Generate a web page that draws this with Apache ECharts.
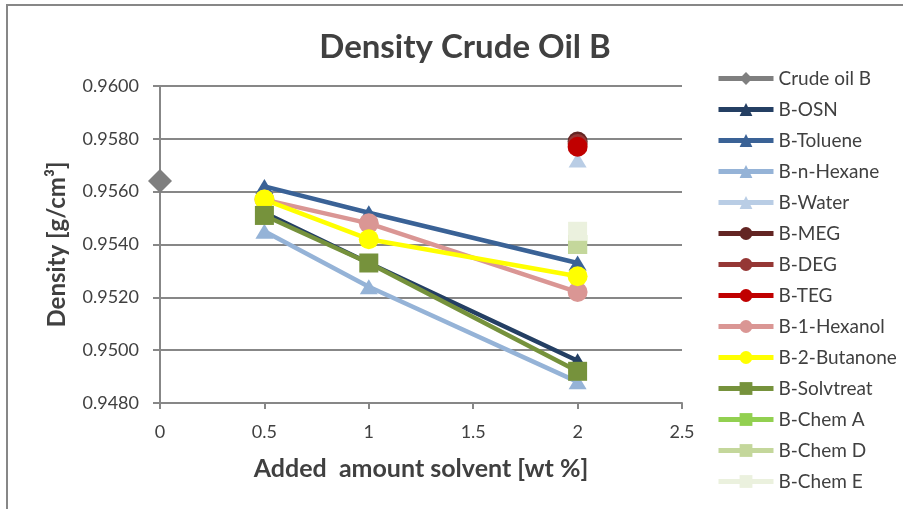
<!DOCTYPE html>
<html>
<head>
<meta charset="utf-8">
<script src="https://cdn.jsdelivr.net/npm/echarts@6/dist/echarts.min.js"></script>
<style>
  html, body { margin: 0; padding: 0; background: #fff; }
  #chart { width: 903px; height: 509px; }
</style>
</head>
<body>
<div id="chart"></div>
<script>
// Added solvent amounts [wt %]
const solventAmounts = [0.5, 1, 2];
const baseAmount = [0];
const endAmount = [2];

// Density [g/cm3] per series
const crudeOilB   = [0.9564];
const osn         = [0.9552, 0.9533, 0.9496];
const toluene     = [0.9562, 0.9552, 0.9533];
const nHexane     = [0.9545, 0.9524, 0.9488];
const water       = [0.9572];
const meg         = [0.9579];
const deg         = [0.9578];
const teg         = [0.9577];
const hexanol     = [0.9557, 0.9548, 0.9522];
const butanone    = [0.9557, 0.9542, 0.9528];
const solvtreat   = [0.9551, 0.9533, 0.9492];
const chemA       = [0.9540];
const chemD       = [0.9540];
const chemE       = [0.9545];

const yTicks = [0.9480, 0.9500, 0.9520, 0.9540, 0.9560, 0.9580, 0.9600];
const xTicks = [0, 0.5, 1, 1.5, 2, 2.5];

const FONT = 'Lato';
const TEXT = '#404040';
const GRID = '#878787';

function pairs(xs, ys) { return ys.map((y, i) => [xs[i], y]); }

const tri = 'triangle';

const seriesDefs = [
  { name: 'Crude oil B',  xs: baseAmount,     ys: crudeOilB, color: '#7F7F7F', symbol: 'diamond', size: 24 },
  { name: 'B-OSN',        xs: solventAmounts, ys: osn,       color: '#243F63', symbol: tri, size: 17 },
  { name: 'B-Toluene',    xs: solventAmounts, ys: toluene,   color: '#3A6296', symbol: tri, size: 17 },
  { name: 'B-n-Hexane',   xs: solventAmounts, ys: nHexane,   color: '#95B3D7', symbol: tri, size: 17 },
  { name: 'B-Water',      xs: endAmount,      ys: water,     color: '#B9CDE5', symbol: tri, size: 17 },
  { name: 'B-MEG',        xs: endAmount,      ys: meg,       color: '#632523', symbol: 'circle', size: 20 },
  { name: 'B-DEG',        xs: endAmount,      ys: deg,       color: '#953735', symbol: 'circle', size: 20 },
  { name: 'B-TEG',        xs: endAmount,      ys: teg,       color: '#C00000', symbol: 'circle', size: 20 },
  { name: 'B-1-Hexanol',  xs: solventAmounts, ys: hexanol,   color: '#DA9694', symbol: 'circle', size: 20 },
  { name: 'B-2-Butanone', xs: solventAmounts, ys: butanone,  color: '#FFFF00', symbol: 'circle', size: 20 },
  { name: 'B-Solvtreat',  xs: solventAmounts, ys: solvtreat, color: '#76923C', symbol: 'rect', size: 19 },
  { name: 'B-Chem A',     xs: endAmount,      ys: chemA,     color: '#92D050', symbol: 'rect', size: 19 },
  { name: 'B-Chem D',     xs: endAmount,      ys: chemD,     color: '#C4D79B', symbol: 'rect', size: 19 },
  { name: 'B-Chem E',     xs: endAmount,      ys: chemE,     color: '#EBF1DE', symbol: 'rect', size: 19 }
];

const series = seriesDefs.map(d => ({
  name: d.name,
  type: 'line',
  data: pairs(d.xs, d.ys),
  symbol: d.symbol,
  symbolSize: d.symbol === tri ? [18, 15] : d.size,
  showAllSymbol: true,
  color: d.color,
  lineStyle: { color: d.color, width: 4.5 },
  itemStyle: { color: d.color },
  emphasis: { disabled: true },
  animation: false
}));

const chart = echarts.init(document.getElementById('chart'), null, { renderer: 'canvas' });

chart.setOption({
  animation: false,
  backgroundColor: '#ffffff',
  textStyle: { fontFamily: FONT, color: TEXT },
  title: {
    text: 'Density Crude Oil B',
    left: 460,
    top: 26,
    textAlign: 'center',
    textStyle: { fontFamily: FONT, fontSize: 33, fontWeight: 'bold', color: TEXT }
  },
  graphic: [{
    type: 'rect',
    shape: { x: 7, y: 5, width: 900, height: 510 },
    style: { fill: 'none', stroke: '#878787', lineWidth: 2 },
    silent: true
  }],
  grid: { left: 160, right: 221, top: 86, bottom: 106, containLabel: false },
  xAxis: {
    type: 'value',
    min: 0, max: 2.5, interval: 0.5,
    name: 'Added  amount solvent [wt %]',
    nameLocation: 'middle',
    nameGap: 53,
    nameTextStyle: { fontFamily: FONT, fontSize: 25, fontWeight: 'bold', color: TEXT },
    axisLine: { show: true, onZero: false, lineStyle: { color: GRID, width: 2 } },
    axisTick: { show: true, length: 6, lineStyle: { color: GRID, width: 2 } },
    axisLabel: {
      fontFamily: FONT, fontSize: 18, color: TEXT, margin: 20,
      formatter: v => String(xTicks.find(t => Math.abs(t - v) < 1e-9) ?? v)
    },
    splitLine: { show: false }
  },
  yAxis: {
    type: 'value',
    min: yTicks[0], max: yTicks[yTicks.length - 1], interval: 0.002,
    name: 'Density [g/cm³]',
    nameLocation: 'middle',
    nameGap: 91,
    nameRotate: 90,
    nameTextStyle: { fontFamily: FONT, fontSize: 24, fontWeight: 'bold', color: TEXT },
    axisLine: { show: true, lineStyle: { color: GRID, width: 2 } },
    axisTick: { show: true, inside: false, length: 7, lineStyle: { color: GRID, width: 2 } },
    axisLabel: { fontFamily: FONT, fontSize: 18, color: TEXT, margin: 21, formatter: v => v.toFixed(4) },
    splitLine: { show: true, lineStyle: { color: GRID, width: 2 } }
  },
  legend: {
    orient: 'vertical',
    left: 711,
    top: 64,
    height: 440,
    itemWidth: 55,
    itemHeight: 16,
    itemGap: 12,
    selectedMode: false,
    lineStyle: { width: 5 },
    textStyle: { fontFamily: FONT, fontSize: 19, color: TEXT, padding: [0, 0, 0, 0] },
    data: seriesDefs.map(d => d.name)
  },
  series: series
});
</script>
</body>
</html>
